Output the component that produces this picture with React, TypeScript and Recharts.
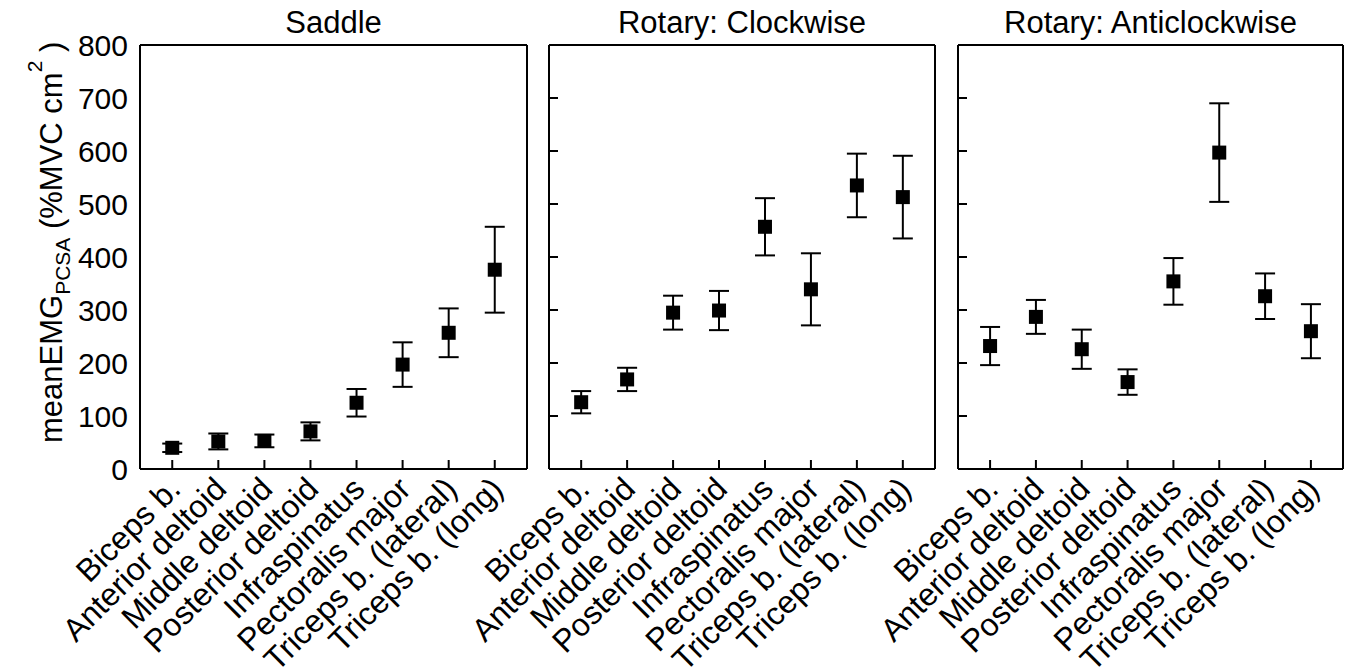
import { ScatterChart, Scatter, XAxis, YAxis, ErrorBar } from 'recharts'

const CATEGORIES = [
  'Biceps b.',
  'Anterior deltoid',
  'Middle deltoid',
  'Posterior deltoid',
  'Infraspinatus',
  'Pectoralis major',
  'Triceps b. (lateral)',
  'Triceps b. (long)',
]
const X_POS = [1, 2, 3, 4, 5, 6, 7, 8]
const Y_TICKS = [0, 100, 200, 300, 400, 500, 600, 700, 800]
const INNER_Y_TICKS = [100, 200, 300, 400, 500, 600, 700]

// mean and SD per muscle
const SADDLE_MEAN = [40, 52, 53, 71, 125, 197, 257, 376]
const SADDLE_ERR = [8, 15, 12, 17, 26, 42, 46, 81]
const CW_MEAN = [126, 169, 295, 299, 457, 339, 535, 513]
const CW_ERR = [21, 22, 32, 37, 54, 68, 60, 78]
const ACW_MEAN = [232, 287, 226, 164, 354, 597, 326, 260]
const ACW_ERR = [36, 32, 37, 24, 44, 93, 43, 51]

const FONT = '"Liberation Sans", Arial, sans-serif'
const AXIS_LINE = { stroke: '#000', strokeWidth: 2 }
const TICK_LEN = 9

// ticks point into the plot, so each tick draws its own line
function BottomTick({ x, y, payload }: any) {
  const tx = x + 10
  const ty = y + 22
  return (
    <g>
      <line x1={x} y1={y} x2={x} y2={y - TICK_LEN} stroke="#000" strokeWidth={2} />
      <text
        x={tx}
        y={ty}
        transform={`rotate(-45, ${tx}, ${ty})`}
        textAnchor="end"
        fontSize={32}
        fontFamily={FONT}
        fill="#000"
      >
        {CATEGORIES[payload.value - 1]}
      </text>
    </g>
  )
}

function TopTick({ x, y }: any) {
  return <line x1={x} y1={y} x2={x} y2={y + TICK_LEN} stroke="#000" strokeWidth={2} />
}

function LeftTick({ x, y }: any) {
  return <line x1={x} y1={y} x2={x + TICK_LEN} y2={y} stroke="#000" strokeWidth={2} />
}

function LeftLabelTick({ x, y, payload }: any) {
  return (
    <text x={x - 12} y={y} dy="0.36em" textAnchor="end" fontSize={30} fontFamily={FONT} fill="#000">
      {payload.value}
    </text>
  )
}

function RightTick({ x, y }: any) {
  return <line x1={x} y1={y} x2={x - TICK_LEN} y2={y} stroke="#000" strokeWidth={2} />
}

function Square({ cx, cy }: any) {
  return <rect x={cx - 7} y={cy - 7} width={14} height={14} fill="#000" />
}

function YLabel({ viewBox }: any) {
  const vb = viewBox || { x: 0, y: 45, width: 140, height: 424 }
  const x = vb.x + 62
  const y = vb.y + vb.height - 26
  return (
    <text
      x={x}
      y={y}
      transform={`rotate(-90, ${x}, ${y})`}
      textAnchor="start"
      fontSize={31}
      fontFamily={FONT}
      fill="#000"
    >
      meanEMG
      <tspan fontSize={21} dy={8}>PCSA</tspan>
      <tspan dy={-8}> (%MVC cm</tspan>
      <tspan fontSize={21} dy={-20}>2</tspan>
      <tspan dy={20}>{'\u00a0)'}</tspan>
    </text>
  )
}

interface PanelProps {
  title: string
  means: number[]
  errs: number[]
  left: number
  width: number
  yAxisWidth: number
  rightMargin: number
  first?: boolean
}

function Panel({ title, means, errs, left, width, yAxisWidth, rightMargin, first = false }: PanelProps) {
  const data = X_POS.map((x, i) => ({ x, y: means[i], err: errs[i] }))
  return (
    <div style={{ position: 'absolute', left, top: 0 }}>
      <ScatterChart width={width} height={670} margin={{ top: 44, right: rightMargin - 1, bottom: 5, left: 0 }}>
        <XAxis
          xAxisId="b"
          dataKey="x"
          type="number"
          domain={[0.3, 8.7]}
          ticks={X_POS}
          interval={0}
          height={196}
          tickSize={0}
          tickMargin={0}
          tick={<BottomTick />}
          axisLine={AXIS_LINE}
          tickLine={false}
        />
        <XAxis
          xAxisId="t"
          orientation="top"
          type="number"
          domain={[0.3, 8.7]}
          ticks={X_POS}
          interval={0}
          height={1}
          tickSize={0}
          tickMargin={0}
          tick={<TopTick />}
          axisLine={AXIS_LINE}
          tickLine={false}
          label={{ value: title, position: 'top', offset: 11, fontSize: 31, fill: '#000', fontFamily: FONT }}
        />
        <YAxis
          yAxisId="l"
          dataKey="y"
          type="number"
          domain={[0, 800]}
          ticks={first ? Y_TICKS : INNER_Y_TICKS}
          interval={0}
          width={yAxisWidth}
          tickSize={0}
          tickMargin={0}
          tick={first ? <LeftLabelTick /> : <LeftTick />}
          axisLine={AXIS_LINE}
          tickLine={false}
          label={first ? <YLabel /> : undefined}
        />
        <YAxis
          yAxisId="r"
          orientation="right"
          type="number"
          domain={[0, 800]}
          ticks={INNER_Y_TICKS}
          interval={0}
          width={1}
          tickSize={0}
          tickMargin={0}
          tick={<RightTick />}
          axisLine={AXIS_LINE}
          tickLine={false}
        />
        <Scatter xAxisId="b" yAxisId="l" data={data} shape={<Square />} isAnimationActive={false}>
          <ErrorBar dataKey="err" direction="y" width={10} stroke="#000" strokeWidth={2} isAnimationActive={false} />
        </Scatter>
      </ScatterChart>
    </div>
  )
}

export default function App() {
  return (
    <div style={{ position: 'absolute', left: 0, top: 0, width: 1350, height: 670, background: '#fff' }}>
      <style>{'.recharts-surface { overflow: visible; }'}</style>
      <Panel title="Saddle" means={SADDLE_MEAN} errs={SADDLE_ERR} left={0} width={540} yAxisWidth={140} rightMargin={13} first />
      <Panel title="Rotary: Clockwise" means={CW_MEAN} errs={CW_ERR} left={530} width={420} yAxisWidth={19} rightMargin={15} />
      <Panel title="Rotary: Anticlockwise" means={ACW_MEAN} errs={ACW_ERR} left={940} width={410} yAxisWidth={18} rightMargin={7} />
    </div>
  )
}
